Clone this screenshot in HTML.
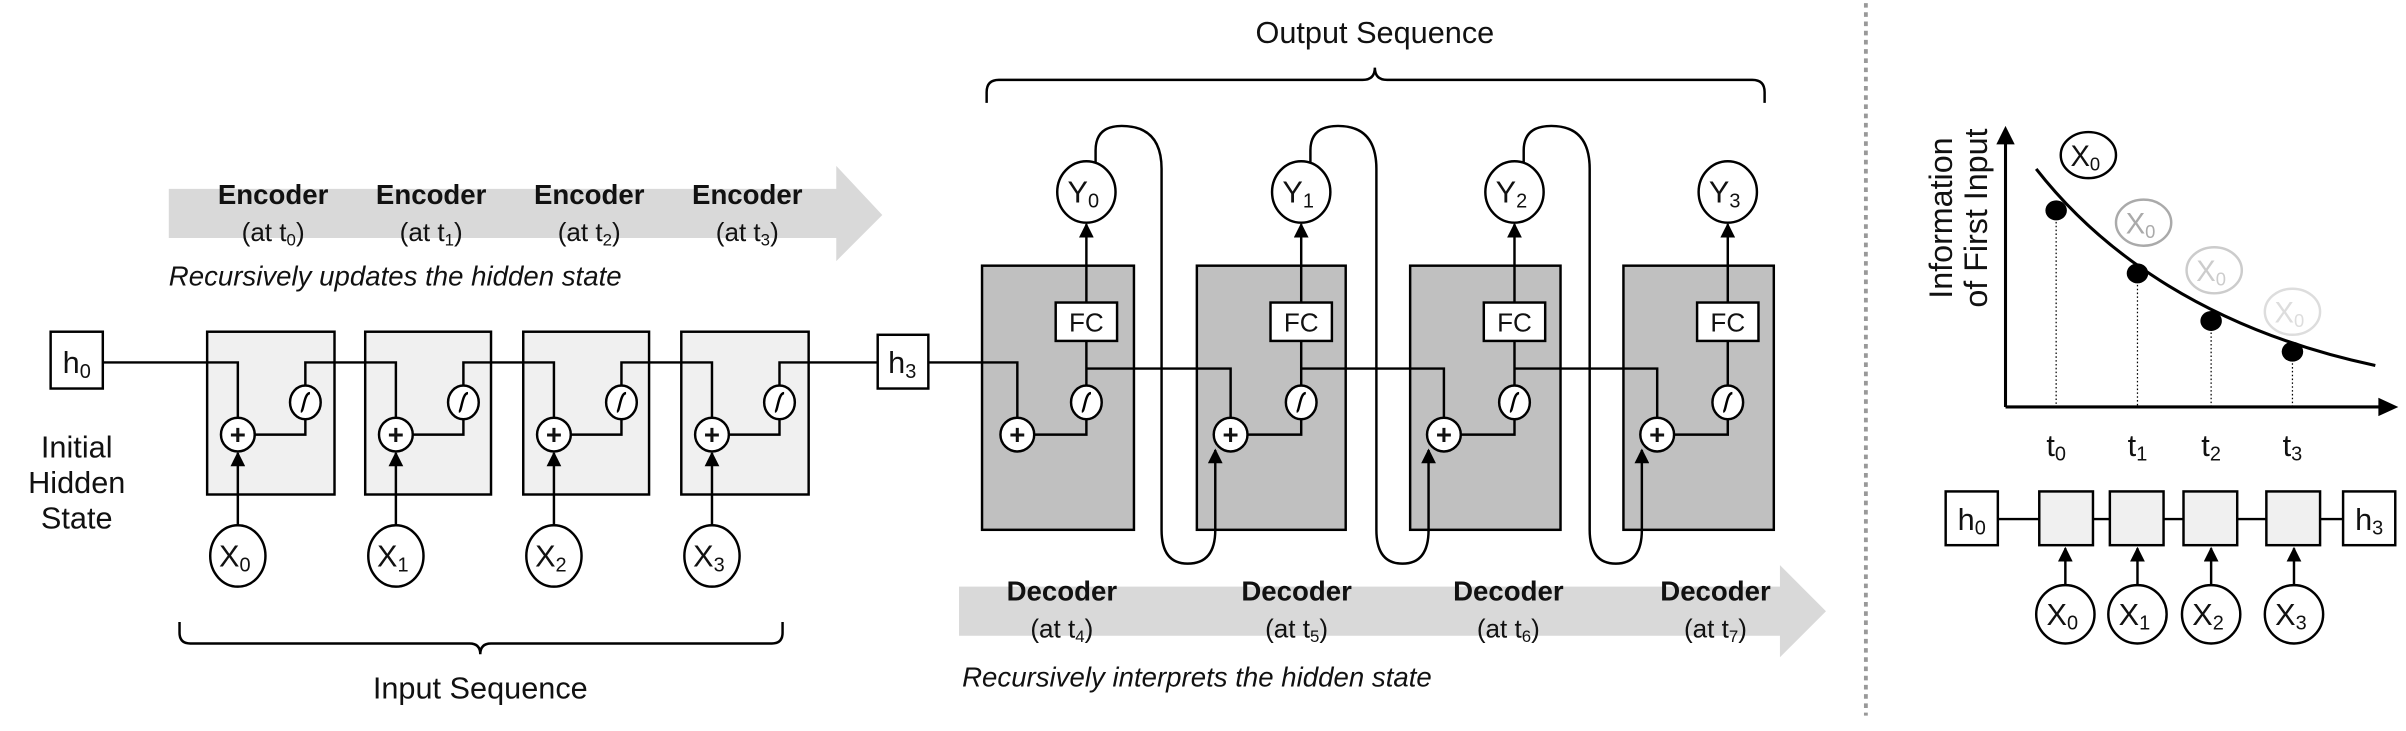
<!DOCTYPE html>
<html><head><meta charset="utf-8"><style>
html,body{margin:0;padding:0;background:#fff;}
svg{display:block;}
text{font-family:"Liberation Sans",sans-serif;fill:#111;}
</style></head><body>
<svg width="2406" height="731" viewBox="0 0 1568 476" preserveAspectRatio="none" xmlns="http://www.w3.org/2000/svg">
<defs>
<marker id="ar" viewBox="0 0 10 10" refX="9" refY="5" markerWidth="7" markerHeight="6" orient="auto" markerUnits="strokeWidth"><path d="M0,0 L10,5 L0,10 z" fill="#000"/></marker>
<g id="sig"><path d="M-3,6 C-1,6 -1,-6 3,-6" fill="none" stroke="#000" stroke-width="1.6"/></g>
</defs>
<!-- encoder arrow band -->
<polygon points="110,123 545,123 545,108 575,140 545,170 545,155 110,155" fill="#d9d9d9"/>
<g font-size="18" font-weight="bold" text-anchor="middle">
<text x="178" y="133">Encoder</text><text x="281" y="133">Encoder</text><text x="384" y="133">Encoder</text><text x="487" y="133">Encoder</text>
</g>
<g font-size="17" text-anchor="middle">
<text x="178" y="157">(at t<tspan font-size="11" dy="3">0</tspan><tspan dy="-3">)</tspan></text>
<text x="281" y="157">(at t<tspan font-size="11" dy="3">1</tspan><tspan dy="-3">)</tspan></text>
<text x="384" y="157">(at t<tspan font-size="11" dy="3">2</tspan><tspan dy="-3">)</tspan></text>
<text x="487" y="157">(at t<tspan font-size="11" dy="3">3</tspan><tspan dy="-3">)</tspan></text>
</g>
<text x="110" y="186" font-size="18" font-style="italic">Recursively updates the hidden state</text>

<!-- encoder boxes -->
<g fill="#f0f0f0" stroke="#000" stroke-width="1.6">
<rect x="135" y="216" width="83" height="106"/><rect x="238" y="216" width="82" height="106"/>
<rect x="341" y="216" width="82" height="106"/><rect x="444" y="216" width="83" height="106"/>
</g>
<!-- h0 -->
<rect x="33" y="216" width="34" height="37" fill="#fff" stroke="#000" stroke-width="1.6"/>
<text x="50" y="243" font-size="20" text-anchor="middle">h<tspan font-size="13" dy="3">0</tspan></text>
<g font-size="20" text-anchor="middle"><text x="50" y="298">Initial</text><text x="50" y="321">Hidden</text><text x="50" y="344">State</text></g>
<!-- encoder lines -->
<g fill="none" stroke="#000" stroke-width="1.6">
<path d="M67,236 H155 V272"/><path d="M166,283 H199 V273 M199,251 V236 H258 V272"/>
<path d="M269,283 H302 V273 M302,251 V236 H361 V272"/>
<path d="M372,283 H405 V273 M405,251 V236 H464 V272"/>
<path d="M475,283 H508 V273 M508,251 V236 H572"/>
</g>
<g stroke="#000" stroke-width="1.6" fill="#fff">
<circle cx="155" cy="283" r="11"/><circle cx="258" cy="283" r="11"/><circle cx="361" cy="283" r="11"/><circle cx="464" cy="283" r="11"/>
<ellipse cx="199" cy="262" rx="10" ry="11"/><ellipse cx="302" cy="262" rx="10" ry="11"/><ellipse cx="405" cy="262" rx="10" ry="11"/><ellipse cx="508" cy="262" rx="10" ry="11"/>
<ellipse cx="155" cy="362" rx="18" ry="20"/><ellipse cx="258" cy="362" rx="18" ry="20"/><ellipse cx="361" cy="362" rx="18" ry="20"/><ellipse cx="464" cy="362" rx="18" ry="20"/>
</g>
<g font-size="18" font-weight="bold" text-anchor="middle"><text x="155" y="289">+</text><text x="258" y="289">+</text><text x="361" y="289">+</text><text x="464" y="289">+</text></g>
<use href="#sig" x="199" y="262"/><use href="#sig" x="302" y="262"/><use href="#sig" x="405" y="262"/><use href="#sig" x="508" y="262"/>
<g stroke="#000" stroke-width="1.6" marker-end="url(#ar)">
<line x1="155" y1="342" x2="155" y2="295"/><line x1="258" y1="342" x2="258" y2="295"/><line x1="361" y1="342" x2="361" y2="295"/><line x1="464" y1="342" x2="464" y2="295"/>
</g>
<g font-size="20" text-anchor="middle">
<text x="153" y="369">X<tspan font-size="13" dy="3">0</tspan></text><text x="256" y="369">X<tspan font-size="13" dy="3">1</tspan></text>
<text x="359" y="369">X<tspan font-size="13" dy="3">2</tspan></text><text x="462" y="369">X<tspan font-size="13" dy="3">3</tspan></text>
</g>
<!-- input brace -->
<path d="M117,405 V412 Q117,419 124,419 H306 Q313,419 313,426 Q313,419 320,419 H503 Q510,419 510,412 V405" fill="none" stroke="#000" stroke-width="1.6"/>
<text x="313" y="455" font-size="20" text-anchor="middle">Input Sequence</text>

<!-- h3 -->
<rect x="572" y="218" width="33" height="35" fill="#fff" stroke="#000" stroke-width="1.6"/>
<text x="588" y="243" font-size="20" text-anchor="middle">h<tspan font-size="13" dy="3">3</tspan></text>

<!-- output brace -->
<text x="896" y="28" font-size="20" text-anchor="middle">Output Sequence</text>
<path d="M643,67 V60 Q643,52 651,52 H888 Q896,52 896,44 Q896,52 904,52 H1142 Q1150,52 1150,60 V67" fill="none" stroke="#000" stroke-width="1.6"/>

<!-- decoder boxes -->
<g fill="#c0c0c0" stroke="#000" stroke-width="1.6">
<rect x="640" y="173" width="99" height="172"/><rect x="780" y="173" width="97" height="172"/>
<rect x="919" y="173" width="98" height="172"/><rect x="1058" y="173" width="98" height="172"/>
</g>
<g fill="none" stroke="#000" stroke-width="1.6">
<path d="M605,236 H663 V272"/>
<path d="M674,283 H708 V273 M708,251 V222"/><path d="M708,240 H802 V272"/>
<path d="M813,283 H848 V273 M848,251 V222"/><path d="M848,240 H941 V272"/>
<path d="M952,283 H987 V273 M987,251 V222"/><path d="M987,240 H1080 V272"/>
<path d="M1091,283 H1126 V273 M1126,251 V222"/>
<path d="M714,106 V98 Q714,82 731,82 Q757,82 757,110 V345 Q757,367 774,367 Q792,367 792,345"/>
<path d="M854,106 V98 Q854,82 872,82 Q897,82 897,110 V345 Q897,367 914,367 Q931,367 931,345"/>
<path d="M993,106 V98 Q993,82 1011,82 Q1036,82 1036,110 V345 Q1036,367 1053,367 Q1070,367 1070,345"/>
</g>
<g stroke="#000" stroke-width="1.6" marker-end="url(#ar)">
<line x1="792" y1="346" x2="792" y2="293"/><line x1="931" y1="346" x2="931" y2="293"/><line x1="1070" y1="346" x2="1070" y2="293"/>
<line x1="708" y1="197" x2="708" y2="146"/><line x1="848" y1="197" x2="848" y2="146"/><line x1="987" y1="197" x2="987" y2="146"/><line x1="1126" y1="197" x2="1126" y2="146"/>
</g>
<g stroke="#000" stroke-width="1.6" fill="#fff">
<rect x="688" y="197" width="40" height="25"/><rect x="828" y="197" width="40" height="25"/><rect x="967" y="197" width="40" height="25"/><rect x="1106" y="197" width="40" height="25"/>
<circle cx="663" cy="283" r="11"/><circle cx="802" cy="283" r="11"/><circle cx="941" cy="283" r="11"/><circle cx="1080" cy="283" r="11"/>
<ellipse cx="708" cy="262" rx="10" ry="11"/><ellipse cx="848" cy="262" rx="10" ry="11"/><ellipse cx="987" cy="262" rx="10" ry="11"/><ellipse cx="1126" cy="262" rx="10" ry="11"/>
<ellipse cx="708" cy="125" rx="19" ry="20"/><ellipse cx="848" cy="125" rx="19" ry="20"/><ellipse cx="987" cy="125" rx="19" ry="20"/><ellipse cx="1126" cy="125" rx="19" ry="20"/>
</g>
<use href="#sig" x="708" y="262"/><use href="#sig" x="848" y="262"/><use href="#sig" x="987" y="262"/><use href="#sig" x="1126" y="262"/>
<g font-size="18" font-weight="bold" text-anchor="middle"><text x="663" y="289">+</text><text x="802" y="289">+</text><text x="941" y="289">+</text><text x="1080" y="289">+</text></g>
<g font-size="17" text-anchor="middle"><text x="708" y="216">FC</text><text x="848" y="216">FC</text><text x="987" y="216">FC</text><text x="1126" y="216">FC</text></g>
<g font-size="20" text-anchor="middle">
<text x="706" y="132">Y<tspan font-size="13" dy="3">0</tspan></text><text x="846" y="132">Y<tspan font-size="13" dy="3">1</tspan></text>
<text x="985" y="132">Y<tspan font-size="13" dy="3">2</tspan></text><text x="1124" y="132">Y<tspan font-size="13" dy="3">3</tspan></text>
</g>

<polygon points="625,382 1160,382 1160,368 1190,398 1160,428 1160,414 625,414" fill="#d9d9d9"/>
<g font-size="18" font-weight="bold" text-anchor="middle">
<text x="692" y="391">Decoder</text><text x="845" y="391">Decoder</text><text x="983" y="391">Decoder</text><text x="1118" y="391">Decoder</text>
</g>
<g font-size="17" text-anchor="middle">
<text x="692" y="415">(at t<tspan font-size="11" dy="3">4</tspan><tspan dy="-3">)</tspan></text>
<text x="845" y="415">(at t<tspan font-size="11" dy="3">5</tspan><tspan dy="-3">)</tspan></text>
<text x="983" y="415">(at t<tspan font-size="11" dy="3">6</tspan><tspan dy="-3">)</tspan></text>
<text x="1118" y="415">(at t<tspan font-size="11" dy="3">7</tspan><tspan dy="-3">)</tspan></text>
</g>
<text x="627" y="447" font-size="18" font-style="italic">Recursively interprets the hidden state</text>

<line x1="1216" y1="2" x2="1216" y2="466" stroke="#999" stroke-width="2.5" stroke-dasharray="3,3"/>

<g font-size="21" text-anchor="middle">
<text transform="translate(1272,142) rotate(-90)">Information</text>
<text transform="translate(1295,142) rotate(-90)">of First Input</text>
</g>
<g stroke="#000" stroke-width="2" fill="none">
<line x1="1307" y1="265" x2="1307" y2="92"/><line x1="1307" y1="265" x2="1552" y2="265"/>
<path d="M1327,110 C1370,165 1440,215 1548,238"/>
</g>
<polygon points="1301,94 1307,82 1313,94" fill="#000"/>
<polygon points="1550,259 1563,265 1550,271" fill="#000"/>
<g stroke="#000" stroke-width="0.8" stroke-dasharray="1,1.5">
<line x1="1340" y1="137" x2="1340" y2="265"/><line x1="1393" y1="178" x2="1393" y2="265"/><line x1="1441" y1="209" x2="1441" y2="265"/><line x1="1494" y1="229" x2="1494" y2="265"/>
</g>
<g fill="#000"><ellipse cx="1340" cy="137" rx="7" ry="6.5"/><ellipse cx="1393" cy="178" rx="7" ry="6.5"/><ellipse cx="1441" cy="209" rx="7" ry="6.5"/><ellipse cx="1494" cy="229" rx="7" ry="6.5"/></g>
<g font-size="20" text-anchor="middle">
<text x="1340" y="297">t<tspan font-size="13" dy="3">0</tspan></text><text x="1393" y="297">t<tspan font-size="13" dy="3">1</tspan></text>
<text x="1441" y="297">t<tspan font-size="13" dy="3">2</tspan></text><text x="1494" y="297">t<tspan font-size="13" dy="3">3</tspan></text>
</g>
<ellipse cx="1361" cy="101" rx="18" ry="15" fill="#fff" stroke="#000" stroke-width="1.6"/>
<ellipse cx="1397" cy="145" rx="18" ry="15" fill="#fff" stroke="#aaa" stroke-width="1.6"/>
<ellipse cx="1443" cy="176" rx="18" ry="15" fill="#fff" stroke="#ccc" stroke-width="1.6"/>
<ellipse cx="1494" cy="203" rx="18" ry="15" fill="#fff" stroke="#ddd" stroke-width="1.6"/>
<g font-size="19" text-anchor="middle">
<text x="1359" y="108">X<tspan font-size="12" dy="3">0</tspan></text>
<text x="1395" y="152" style="fill:#aaa">X<tspan font-size="12" dy="3">0</tspan></text>
<text x="1441" y="183" style="fill:#ccc">X<tspan font-size="12" dy="3">0</tspan></text>
<text x="1492" y="210" style="fill:#ddd">X<tspan font-size="12" dy="3">0</tspan></text>
</g>

<line x1="1302" y1="338" x2="1527" y2="338" stroke="#000" stroke-width="1.6"/>
<g stroke="#000" stroke-width="1.6">
<rect x="1268" y="320" width="34" height="35" fill="#fff"/><rect x="1527" y="320" width="34" height="35" fill="#fff"/>
<rect x="1329" y="320" width="35" height="35" fill="#f0f0f0"/><rect x="1375" y="320" width="35" height="35" fill="#f0f0f0"/>
<rect x="1423" y="320" width="35" height="35" fill="#f0f0f0"/><rect x="1477" y="320" width="35" height="35" fill="#f0f0f0"/>
<ellipse cx="1346" cy="400" rx="19" ry="19" fill="#fff"/><ellipse cx="1393" cy="400" rx="19" ry="19" fill="#fff"/>
<ellipse cx="1441" cy="400" rx="19" ry="19" fill="#fff"/><ellipse cx="1495" cy="400" rx="19" ry="19" fill="#fff"/>
</g>
<g stroke="#000" stroke-width="1.6" marker-end="url(#ar)">
<line x1="1346" y1="381" x2="1346" y2="357"/><line x1="1393" y1="381" x2="1393" y2="357"/><line x1="1441" y1="381" x2="1441" y2="357"/><line x1="1495" y1="381" x2="1495" y2="357"/>
</g>
<g font-size="20" text-anchor="middle">
<text x="1285" y="345">h<tspan font-size="13" dy="3">0</tspan></text><text x="1544" y="345">h<tspan font-size="13" dy="3">3</tspan></text>
<text x="1344" y="407">X<tspan font-size="13" dy="3">0</tspan></text><text x="1391" y="407">X<tspan font-size="13" dy="3">1</tspan></text>
<text x="1439" y="407">X<tspan font-size="13" dy="3">2</tspan></text><text x="1493" y="407">X<tspan font-size="13" dy="3">3</tspan></text>
</g>
</svg>
</body></html>
